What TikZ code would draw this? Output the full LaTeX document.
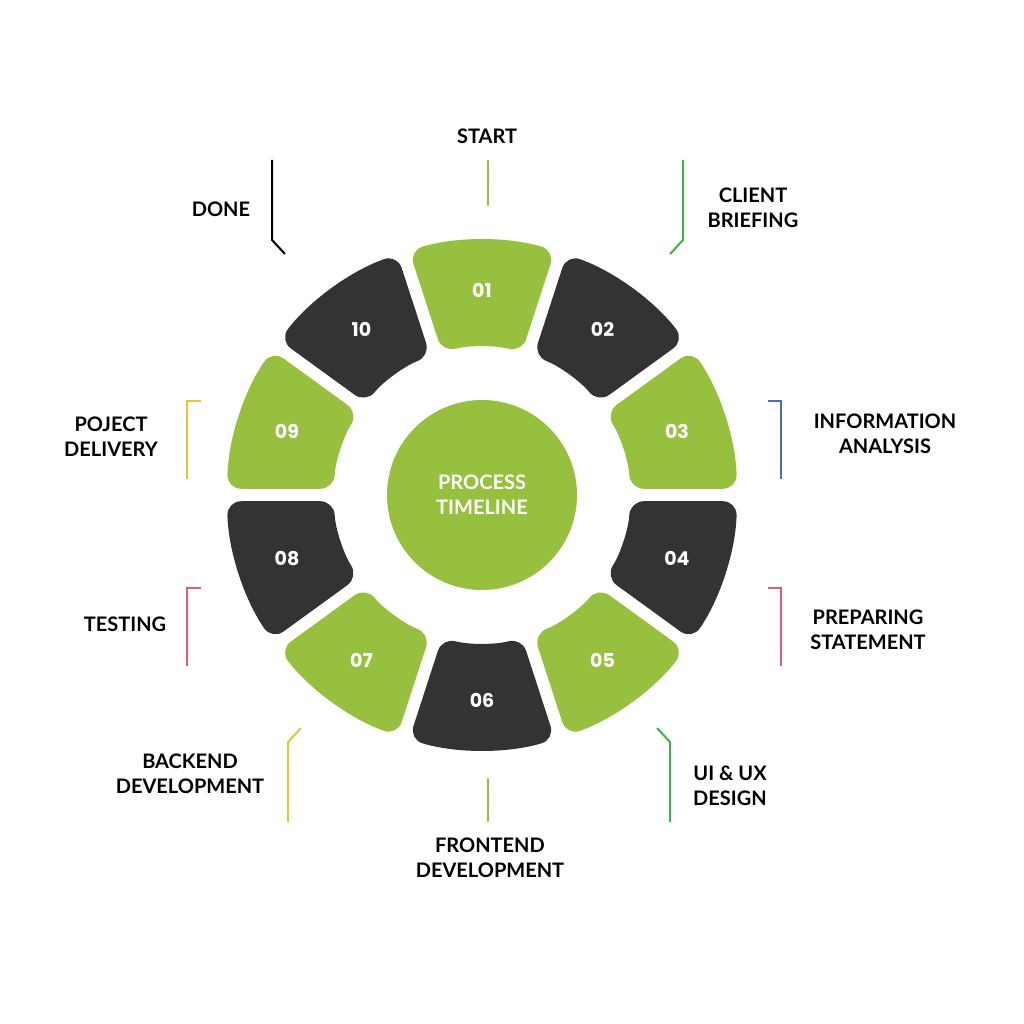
\documentclass[tikz,border=0pt]{standalone}
\usepackage{fontspec}
\usetikzlibrary{calc}
\setmainfont{Lato}
\newfontfamily\pop{Poppins}
\definecolor{gr}{HTML}{96C03D}
\definecolor{dk}{HTML}{333333}
\definecolor{lg}{HTML}{9DC03B}
\definecolor{gn}{HTML}{3DB54A}
\definecolor{bl}{HTML}{4A6FB5}
\definecolor{rd}{HTML}{E85A71}
\definecolor{yl}{HTML}{F2C12E}
\begin{document}
\begin{tikzpicture}[x=1pt,y=-1pt,
  lab/.style={font=\fontsize{20}{25}\selectfont\bfseries,align=center,text=black},
  num/.style={font=\pop\fontsize{19}{22}\selectfont\bfseries,text=white},
  lead/.style={line width=2pt}]
\useasboundingbox (0,0) rectangle (1024,1024);
\coordinate (c) at (482,495);
\foreach \k/\col in {1/gr,2/dk,3/gr,4/dk,5/gr,6/dk,7/gr,8/dk,9/gr,10/dk}{
  \pgfmathsetmacro\m{36*(\k-1)-90}
  \pgfmathsetmacro\ia{\m-18+2.4}\pgfmathsetmacro\ib{\m+18-2.4}
  \pgfmathsetmacro\oa{\m-18+1.4}\pgfmathsetmacro\ob{\m+18-1.4}
  \fill[\col,rounded corners=14pt,shift={(c)}] (\ia:148) arc[start angle=\ia,end angle=\ib,radius=148] -- (\ob:255) arc[start angle=\ob,end angle=\oa,radius=255] -- cycle;
  \node[num] (n\k) at ($(c)+(\m:205)$) {\ifnum\k<10 0\fi\k};
}
\fill[gr] (c) circle (95);
\node[font=\fontsize{20}{25}\selectfont\bfseries,text=white,align=center] (ctr) at (c) {PROCESS\\TIMELINE};
% labels
\node[lab] (l1) at (487,136) {START};
\node[lab] (l2) at (753,208) {CLIENT\\BRIEFING};
\node[lab] (l3) at (885,434) {INFORMATION\\ANALYSIS};
\node[lab] (l4) at (868,630) {PREPARING\\STATEMENT};
\node[lab] (l5) at (730,786) {UI \& UX\\DESIGN};
\node[lab] (l6) at (490,858) {FRONTEND\\DEVELOPMENT};
\node[lab] (l7) at (190,774) {BACKEND\\DEVELOPMENT};
\node[lab] (l8) at (125,624) {TESTING};
\node[lab] (l9) at (111,437) {POJECT\\DELIVERY};
\node[lab] (l10) at (221,209) {DONE};
% leaders
\draw[lead,lg] (488,160) -- (488,206);
\draw[lead,gn] (683,160) -- (683,240) -- (670,254);
\draw[lead,bl] (768,401) -- (781,401) -- (781,479);
\draw[lead,rd] (768,588) -- (781,588) -- (781,666);
\draw[lead,gn] (670,822) -- (670,742) -- (657,728);
\draw[lead,lg] (488,778) -- (488,822);
\draw[lead,yl] (288,822) -- (288,742) -- (301,728);
\draw[lead,rd] (201,588) -- (187,588) -- (187,666);
\draw[lead,yl] (201,401) -- (187,401) -- (187,479);
\draw[lead,black] (272,160) -- (272,240) -- (285,254);
\end{tikzpicture}
\end{document}
